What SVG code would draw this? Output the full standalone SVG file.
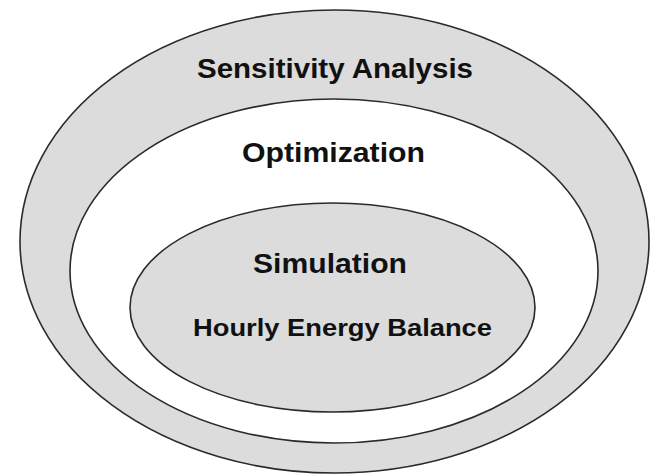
<svg xmlns="http://www.w3.org/2000/svg" width="656" height="476" viewBox="0 0 656 476">
<style>
.ring{stroke:#2a2a2a;stroke-width:1.6}
.gray{fill:#dcdcdc}
.white{fill:#ffffff}
.lbl{font-family:"Liberation Sans",Arial,sans-serif;font-weight:bold;fill:#111;text-anchor:middle}
</style>
<rect width="656" height="476" fill="#ffffff"/>
<g id="sensitivity-analysis">
<ellipse class="ring gray" cx="334.5" cy="241.5" rx="314.5" ry="231.5"/>
<text class="lbl" x="335" y="78" font-size="28" textLength="276" lengthAdjust="spacingAndGlyphs">Sensitivity Analysis</text>
</g>
<g id="optimization">
<ellipse class="ring white" cx="334" cy="271" rx="264" ry="172"/>
<text class="lbl" x="333.5" y="162" font-size="28" textLength="183" lengthAdjust="spacingAndGlyphs">Optimization</text>
</g>
<g id="simulation">
<ellipse class="ring gray" cx="332.5" cy="307.5" rx="202.5" ry="104.5"/>
<text class="lbl" x="330" y="273" font-size="28" textLength="154" lengthAdjust="spacingAndGlyphs">Simulation</text>
<text class="lbl" x="342.5" y="336" font-size="24" textLength="299" lengthAdjust="spacingAndGlyphs">Hourly Energy Balance</text>
</g>
<g id="connectors"></g>
</svg>
